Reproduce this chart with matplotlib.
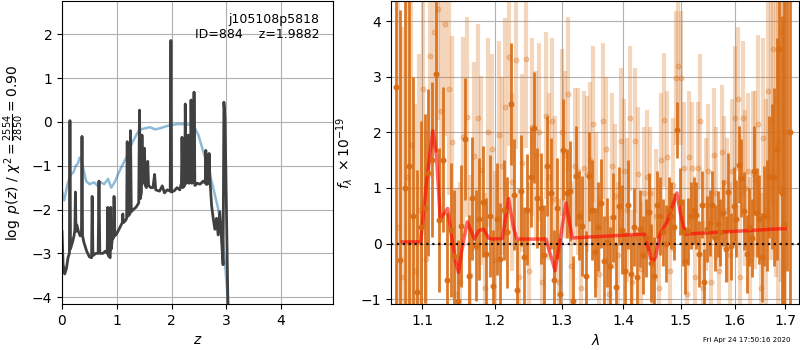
import numpy as np
import matplotlib
matplotlib.use('Agg')
import matplotlib.pyplot as plt
import matplotlib.ticker as mticker

# ---- left panel: p(z) ----
z_pz = [0.00, 0.02, 0.05, 0.08, 0.11, 0.135, 0.145, 0.155, 0.19, 0.22, 0.235, 0.245, 0.255, 0.27,
        0.30, 0.33, 0.355, 0.365, 0.375, 0.40, 0.45, 0.50, 0.54, 0.55, 0.565, 0.62, 0.66, 0.675,
        0.69, 0.75, 0.79, 0.825, 0.835, 0.845, 0.88, 0.89, 0.90, 0.92, 0.94, 0.95, 0.965, 1.00,
        1.04, 1.08, 1.10, 1.11, 1.12, 1.16, 1.18, 1.19, 1.205, 1.24, 1.25, 1.265, 1.30, 1.35,
        1.40, 1.415, 1.43, 1.45, 1.46, 1.475, 1.49, 1.505, 1.52, 1.54, 1.565, 1.58, 1.62, 1.66,
        1.69, 1.71, 1.78, 1.83, 1.87, 1.92, 1.975, 1.988, 2.00, 2.05, 2.10, 2.15, 2.18, 2.19,
        2.205, 2.24, 2.25, 2.265, 2.30, 2.305, 2.32, 2.345, 2.355, 2.37, 2.40, 2.41, 2.425, 2.47,
        2.52, 2.58, 2.615, 2.625, 2.64, 2.67, 2.685, 2.70, 2.73, 2.76, 2.79, 2.82, 2.85, 2.88,
        2.91, 2.94, 2.955, 2.975, 3.00, 3.03, 3.06]
logpz = [-2.5, -3.25, -3.47, -3.35, -3.1, -3.0, 0.03, -2.9, -2.75, -2.6, -2.45, -1.6, -2.5, -2.35,
         -2.5, -2.6, -2.55, -0.33, -2.6, -2.75, -2.95, -3.08, -3.1, -1.7, -3.05, -3.0, -3.0, -1.35,
         -3.0, -3.0, -2.95, -3.0, -1.95, -3.05, -3.1, -1.95, -2.9, -2.65, -2.65, -1.7, -2.6, -2.55,
         -2.45, -2.35, -2.3, -2.1, -2.3, -2.25, -2.2, -0.45, -2.15, -2.1, -0.2, -2.05, -2.0, -1.95,
         -1.85, 0.27, -1.75, -1.6, -0.3, -1.4, -1.3, -0.6, -1.45, -1.5, -0.9, -1.45, -1.5, -1.5,
         -1.2, -1.55, -1.58, -1.46, -1.62, -1.55, -1.58, 1.86, -1.6, -1.57, -1.5, -1.55, -1.4, -0.35,
         -1.5, -1.45, 0.41, -1.4, -1.38, -0.3, -1.4, -1.35, 0.5, -1.4, -1.35, 0.68, -1.45, -1.4,
         -1.42, -1.35, -1.4, -0.65, -1.43, -1.4, -0.72, -1.3, -1.9, -2.2, -2.45, -2.2, -2.58, -2.05,
         -2.65, -3.26, 0.45, 0.1, -1.9, -4.3, -5.5]

z_prior = [0.0, 0.04, 0.10, 0.16, 0.21, 0.25, 0.29, 0.32, 0.35, 0.38, 0.44, 0.50, 0.59, 0.65,
           0.71, 0.77, 0.84, 0.90, 0.96, 1.05, 1.17, 1.29, 1.41, 1.50, 1.60, 1.70, 1.80, 1.95,
           2.10, 2.25, 2.40, 2.49, 2.58, 2.67, 2.76, 2.85, 2.91, 2.97, 3.03, 3.07]
logp_prior = [-1.57, -1.79, -1.42, -1.2, -1.15, -1.0, -0.95, -0.82, -0.81, -1.02, -1.35, -1.42,
              -1.38, -1.46, -1.38, -1.42, -1.3, -1.5, -1.38, -1.12, -0.82, -0.45, -0.18, -0.15,
              -0.12, -0.17, -0.14, -0.08, -0.05, -0.05, -0.08, -0.3, -0.68, -1.06, -1.5, -1.98,
              -2.42, -3.15, -4.1, -4.6]

# ---- right panel: 1D spectrum ----
wave_a = [1.066, 1.071, 1.077, 1.083, 1.088, 1.093, 1.098, 1.103, 1.108, 1.113, 1.118, 1.123,
          1.128, 1.133, 1.138, 1.143, 1.148, 1.153, 1.158, 1.163, 1.168, 1.173, 1.178, 1.183,
          1.188, 1.193, 1.198, 1.203, 1.208, 1.213, 1.218, 1.223, 1.228, 1.233, 1.238, 1.243,
          1.248, 1.253, 1.258, 1.263, 1.268, 1.273, 1.278, 1.283, 1.288, 1.293, 1.298, 1.303,
          1.308, 1.313, 1.318, 1.323, 1.328, 1.333, 1.338, 1.343, 1.348, 1.353, 1.358, 1.363,
          1.368, 1.373, 1.378, 1.383, 1.388, 1.393, 1.398, 1.403, 1.408, 1.413, 1.418, 1.423,
          1.428, 1.433, 1.438, 1.443, 1.448, 1.453, 1.458, 1.463, 1.468, 1.473, 1.478, 1.483,
          1.488, 1.493, 1.498, 1.503, 1.508, 1.513, 1.518, 1.523, 1.528, 1.533, 1.538, 1.543,
          1.548, 1.553, 1.558, 1.563, 1.568, 1.573, 1.578, 1.583, 1.588, 1.593, 1.598, 1.603,
          1.608, 1.613, 1.618, 1.623, 1.628, 1.633, 1.638, 1.643, 1.648, 1.653, 1.658, 1.663,
          1.668, 1.673, 1.678, 1.683, 1.688, 1.693, 1.698, 1.703, 1.709]
flux_a = [2.81, -0.3, 1.0, 1.40, 0.5, -0.88, 0.3, 0.63, 1.27, 1.51, 3.05, 0.42,
          1.51, -0.66, 0.24, -0.23, -1.04, 0.32, 1.88, -0.58, 0.81, -0.04, 0.44, 0.75,
          -0.19, 0.5, -0.76, 0.44, -0.28, 0.6, 0.2, 2.51, 0.88, -0.84, 0.95, -0.25,
          0.61, 1.19, 2.08, 0.82, 0.63, -0.2, 1.4, 0.9, -0.65, 0.63, -0.9, 1.69,
          0.9, 0.94, -1.03, 1.21, 0.5, 0.32, -0.58, 1.21, 0.61, -0.16, 0.3, 0.72,
          -0.31, 0.02, -0.4, 0.47, -0.79, 0.67, 0.25, -0.5, 0.7, -0.55, 0.3, -0.6,
          0.27, -0.2, 0.1, 0.56, -0.35, -0.58, 0.7, 0.5, 0.2, 0.0, 0.6, 0.5,
          0.3, 2.04, 0.75, 0.2, -0.31, 0.22, 0.5, 0.6, 0.51, -0.19, 0.7, -0.69,
          0.26, 0.37, 0.7, 0.1, 0.35, 0.2, 0.55, -0.1, 0.93, -0.05, 0.67, 0.45,
          1.42, 1.18, 0.58, -0.19, 0.3, 0.1, 1.31, 0.55, 0.44, -0.25, 0.5, 0.5,
          1.2, 1.21, 1.2, 1.7, 3.5, 0.9, 0.36, 4.5, 2.0]
err_a = [5.0, 4.5, 4.0, 3.0, 2.5, 2.2, 1.9, 1.7, 1.5, 1.4, 1.4, 1.3,
         1.3, 1.2, 1.2, 1.2, 1.1, 1.1, 1.1, 1.1, 1.1, 1.0, 1.1, 1.0,
         1.0, 1.1, 1.0, 1.0, 1.0, 0.9, 1.0, 1.1, 1.0, 0.9, 1.0, 0.9,
         1.0, 0.9, 1.0, 0.9, 1.0, 0.9, 0.9, 1.0, 0.9, 0.9, 1.0, 0.9,
         0.8, 0.9, 0.8, 0.9, 0.8, 0.9, 0.8, 0.8, 0.9, 0.8, 0.8, 0.8,
         0.8, 0.8, 0.7, 0.8, 0.8, 0.7, 0.8, 0.7, 0.8, 0.7, 0.7, 0.8,
         0.7, 0.7, 0.7, 0.7, 0.7, 0.7, 0.6, 0.7, 0.6, 0.7, 0.6, 0.6,
         0.6, 0.5, 0.6, 0.6, 0.6, 0.6, 0.6, 0.6, 0.6, 0.6, 0.6, 0.6,
         0.6, 0.6, 0.6, 0.6, 0.6, 0.6, 0.6, 0.6, 0.7, 0.6, 0.7, 0.7,
         0.7, 0.7, 0.7, 0.7, 0.7, 0.7, 0.8, 0.8, 0.8, 0.8, 0.9, 1.0,
         1.1, 1.3, 1.6, 2.0, 2.6, 3.2, 4.0, 5.0, 6.0]

wave_b = [1.0685, 1.0735, 1.0795, 1.0855, 1.0905, 1.0955, 1.1005, 1.1055, 1.1105, 1.1155, 1.1205,
          1.1255, 1.1305, 1.1355, 1.1405, 1.1455, 1.1505, 1.1555, 1.1605, 1.1655, 1.1705, 1.1755,
          1.1805, 1.1855, 1.1905, 1.1955, 1.2005, 1.2055, 1.2105, 1.2155, 1.2205, 1.2255, 1.2305,
          1.2355, 1.2405, 1.2455, 1.2505, 1.2555, 1.2605, 1.2655, 1.2705, 1.2755, 1.2805, 1.2855,
          1.2905, 1.2955, 1.3005, 1.3055, 1.3105, 1.3155, 1.3205, 1.3255, 1.3305, 1.3355, 1.3405,
          1.3455, 1.3505, 1.3555, 1.3605, 1.3655, 1.3705, 1.3755, 1.3805, 1.3855, 1.3905, 1.3955,
          1.4005, 1.4055, 1.4105, 1.4155, 1.4205, 1.4255, 1.4305, 1.4355, 1.4405, 1.4455, 1.4505,
          1.4555, 1.4605, 1.4655, 1.4705, 1.4755, 1.4805, 1.4855, 1.4905, 1.4955, 1.5005, 1.5055,
          1.5105, 1.5155, 1.5205, 1.5255, 1.5305, 1.5355, 1.5405, 1.5455, 1.5505, 1.5555, 1.5605,
          1.5655, 1.5705, 1.5755, 1.5805, 1.5855, 1.5905, 1.5955, 1.6005, 1.6055, 1.6105, 1.6155,
          1.6205, 1.6255, 1.6305, 1.6355, 1.6405, 1.6455, 1.6505, 1.6555, 1.6605, 1.6655, 1.6705,
          1.6755, 1.6805, 1.6855, 1.6905, 1.6955, 1.7005]
flux_b = [0.3, -0.6, 1.2, 1.78, -0.5, 0.6, 2.78, -0.28, 3.37, 3.8, 4.22, 2.38,
          3.94, 2.77, 1.83, -0.9, -0.7, 1.92, 2.28, -0.56, 1.57, 2.25, 1.32, -0.8,
          2.0, 1.7, -0.3, 1.95, 1.4, 2.45, 3.35, 1.1, 3.3, -0.6, 1.45, 3.32,
          -0.5, 2.1, 1.6, 2.0, -0.7, 2.3, 1.2, 2.2, 0.8, -0.7, 2.0, 1.6,
          2.68, -0.4, 1.4, 1.3, -0.8, 1.35, 1.25, 1.5, 2.15, 0.6, -0.55, 2.2,
          1.7, -0.9, 1.4, 0.85, -0.2, 1.85, 1.3, 0.6, 2.25, -0.7, 1.85, 1.25,
          -0.45, 0.9, 1.2, 0.9, -0.2, 0.5, -0.8, 1.5, 2.22, 1.55, -0.5, 1.05,
          2.98, 3.2, 2.98, 1.35, -0.9, 1.55, 1.35, -0.6, 1.35, 2.2, -0.8, 0.7,
          1.3, -0.7, 1.6, 0.9, -0.5, 1.65, 1.1, 0.6, -0.2, 1.3, 2.25, 2.6,
          -0.6, 2.25, 1.0, 1.3, -0.3, 1.25, 1.15, 2.15, -0.8, 1.9, 0.6, 2.75,
          2.2, 3.5, 2.6, 1.8, 3.8, 1.0, 2.0]
err_b = [5.0, 4.5, 4.0, 3.5, 3.0, 2.8, 2.5, 2.3, 2.2, 2.1, 2.0, 2.0,
         2.0, 1.9, 1.9, 1.9, 1.8, 1.8, 1.8, 1.8, 1.7, 1.7, 1.7, 1.7,
         1.7, 1.7, 1.6, 1.7, 1.6, 1.6, 1.6, 1.6, 1.6, 1.6, 1.6, 1.6,
         1.6, 1.6, 1.5, 1.6, 1.5, 1.5, 1.5, 1.5, 1.5, 1.5, 1.5, 1.5,
         1.4, 1.5, 1.4, 1.5, 1.4, 1.4, 1.4, 1.4, 1.4, 1.4, 1.4, 1.4,
         1.3, 1.4, 1.3, 1.3, 1.3, 1.3, 1.3, 1.3, 1.3, 1.3, 1.3, 1.2,
         1.2, 1.2, 1.2, 1.2, 1.2, 1.2, 1.2, 1.2, 1.2, 1.2, 1.2, 1.2,
         1.2, 1.2, 1.2, 1.2, 1.2, 1.2, 1.2, 1.2, 1.2, 1.2, 1.2, 1.2,
         1.2, 1.2, 1.2, 1.2, 1.2, 1.2, 1.2, 1.3, 1.3, 1.3, 1.3, 1.3,
         1.3, 1.4, 1.4, 1.4, 1.5, 1.5, 1.6, 1.6, 1.7, 1.8, 2.0, 2.2,
         2.5, 2.8, 3.2, 3.8, 4.5, 5.0, 6.0]

wave_model = [1.074, 1.098, 1.106, 1.114, 1.119, 1.124, 1.134, 1.138, 1.144, 1.149, 1.153, 1.161,
              1.171, 1.177, 1.184, 1.191, 1.197, 1.211, 1.220, 1.227, 1.232, 1.276, 1.290, 1.307,
              1.317, 1.436, 1.449, 1.455, 1.463, 1.475, 1.493, 1.499, 1.508, 1.700]
flux_model = [0.03, 0.03, 1.15, 2.03, 1.57, 0.44, 0.63, 0.26, -0.28, -0.52, -0.16, 0.39,
              0.08, 0.23, 0.26, 0.1, 0.08, 0.09, 0.81, 0.3, 0.08, 0.08, -0.49, 0.73,
              0.1, 0.17, -0.34, -0.25, 0.17, 0.38, 0.91, 0.55, 0.17, 0.27]

fig = plt.figure(figsize=(8, 3.5), dpi=100)

ax = fig.add_axes([0.0775, 0.131, 0.339, 0.866])
ax.plot(z_prior, logp_prior, color='tab:blue', alpha=0.5, lw=1.8)
ax.plot(z_pz, logpz, color='0.25', lw=2)
ax.set_xlim(0, 4.95)
ax.set_ylim(-4.16, 2.76)
ax.set_xlabel(r'$z$')
ax.set_ylabel(r'$\log\ p(z)$' + ' / ' + r'$\chi^2=\frac{2554}{2850}=0.90$')
ax.grid()
ax.text(0.95, 0.96, 'j105108p5818\nID=884    z=1.9882', ha='right', va='top',
        transform=ax.transAxes, fontsize=9)

ax2 = fig.add_axes([0.489, 0.131, 0.51, 0.866])
orange = '#d86c14'
ax2.errorbar(wave_b, flux_b, yerr=err_b, fmt='o', color=orange, alpha=0.28,
             ms=3.3, elinewidth=3.0, capsize=0)
ax2.errorbar(wave_a, flux_a, yerr=err_a, fmt='o', color=orange, alpha=0.9,
             ms=3.3, elinewidth=2.0, capsize=0)
ax2.plot(wave_model, flux_model, color='r', alpha=0.6, lw=2.5)
ax2.axhline(0, color='k', linestyle=':', lw=1.6, alpha=0.9)
ax2.set_xscale('log')
ax2.set_xlim(1.0598, 1.7288)
ax2.set_ylim(-1.09, 4.36)
ax2.xaxis.set_major_locator(mticker.FixedLocator([1.1, 1.2, 1.3, 1.4, 1.5, 1.6, 1.7]))
ax2.xaxis.set_major_formatter(mticker.FormatStrFormatter('%.1f'))
ax2.xaxis.set_minor_locator(mticker.NullLocator())
ax2.set_xlabel(r'$\lambda$')
ax2.set_ylabel(r'$f_\lambda\ \times 10^{-19}$')
ax2.grid()

fig.text(0.988, 0.02, 'Fri Apr 24 17:50:16 2020', ha='right', va='bottom', fontsize=5)

fig.savefig('out.png', dpi=100)
